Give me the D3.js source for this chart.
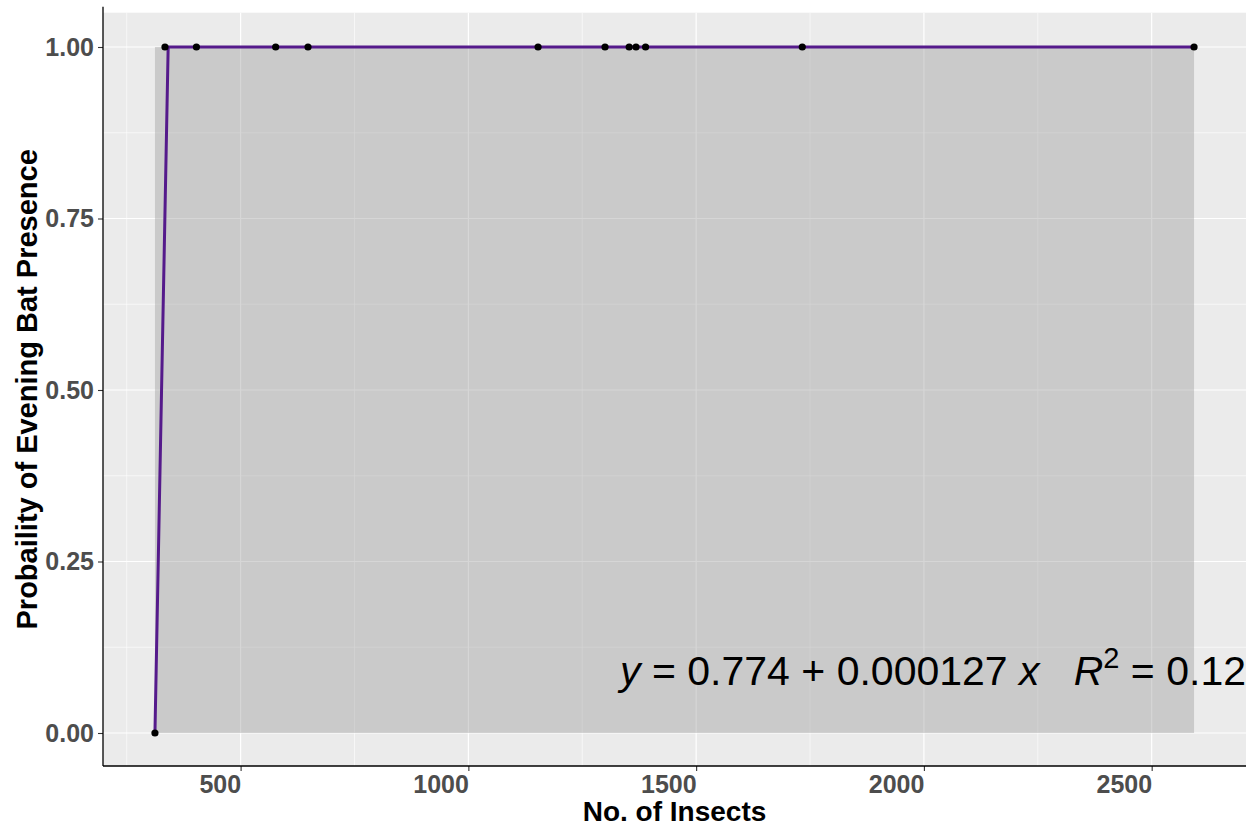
<!DOCTYPE html>
<html>
<head>
<meta charset="utf-8">
<script src="https://cdn.jsdelivr.net/npm/d3@7"></script>
<style>
  html, body { margin: 0; padding: 0; background: #ffffff; }
  svg { display: block; font-family: "Liberation Sans", Arial, sans-serif; }
</style>
</head>
<body>
<svg id="chart" width="1258" height="829"></svg>
<script>
// Observed nights: insect counts and whether evening bats were detected
const insects  = [312, 334, 403, 577, 648, 1153, 1300, 1353, 1368, 1389, 1733, 2593];
const presence = [0, 1, 1, 1, 1, 1, 1, 1, 1, 1, 1, 1];

// Fitted logistic curve with its confidence band
const fitX     = [312, 341, 2593];
const fitY     = [0, 1, 1];
const bandLow  = [0, 0, 0];
const bandHigh = [1, 1, 1];

// Axis ticks
const xTicks      = [500, 1000, 1500, 2000, 2500];
const xMinorTicks = [250, 750, 1250, 1750, 2250];
const yTicks      = [0, 0.25, 0.5, 0.75, 1];
const yTickLabels = ["0.00", "0.25", "0.50", "0.75", "1.00"];
const yMinorTicks = [0.125, 0.375, 0.625, 0.875];

const equationText = { y: "y", a: " = 0.774 + 0.000127 ", x: "x", r: "R", sup: "2", rest: " = 0.12" };

const svg = d3.select("#chart");
const panel = { left: 103, right: 1246, top: 12.7, bottom: 766 };

// 5% padding on both sides, as in ggplot's default expansion
const xMin = d3.min(insects), xMax = d3.max(insects);
const xPad = (xMax - xMin) * 0.05;
const x = d3.scaleLinear().domain([xMin - xPad, xMax + xPad]).range([panel.left, panel.right]);
const y = d3.scaleLinear().domain([-0.05, 1.05]).range([767.3, 12.7]);

// Panel background
svg.append("rect")
  .attr("x", panel.left).attr("y", panel.top)
  .attr("width", panel.right - panel.left).attr("height", panel.bottom - panel.top)
  .attr("fill", "#EBEBEB");

// Grid lines
const grid = svg.append("g");
grid.selectAll(".xminor").data(xMinorTicks).join("line")
  .attr("x1", d => x(d)).attr("x2", d => x(d))
  .attr("y1", panel.top).attr("y2", panel.bottom)
  .attr("stroke", "#ffffff").attr("stroke-width", 0.6);
grid.selectAll(".yminor").data(yMinorTicks).join("line")
  .attr("y1", d => y(d)).attr("y2", d => y(d))
  .attr("x1", panel.left).attr("x2", panel.right)
  .attr("stroke", "#ffffff").attr("stroke-width", 0.6);
grid.selectAll(".xmajor").data(xTicks).join("line")
  .attr("x1", d => x(d)).attr("x2", d => x(d))
  .attr("y1", panel.top).attr("y2", panel.bottom)
  .attr("stroke", "#ffffff").attr("stroke-width", 1.2);
grid.selectAll(".ymajor").data(yTicks).join("line")
  .attr("y1", d => y(d)).attr("y2", d => y(d))
  .attr("x1", panel.left).attr("x2", panel.right)
  .attr("stroke", "#ffffff").attr("stroke-width", 1.2);

// Confidence band
const bandData = fitX.map((d, i) => ({ x: d, lo: bandLow[i], hi: bandHigh[i] }));
svg.append("path")
  .datum(bandData)
  .attr("d", d3.area().x(d => x(d.x)).y0(d => y(d.lo)).y1(d => y(d.hi)))
  .attr("fill", "#999999").attr("fill-opacity", 0.4);

// Fitted curve
const fitData = fitX.map((d, i) => ({ x: d, y: fitY[i] }));
svg.append("path")
  .datum(fitData)
  .attr("d", d3.line().x(d => x(d.x)).y(d => y(d.y)))
  .attr("fill", "none").attr("stroke", "#551A8B").attr("stroke-width", 3)
  .attr("stroke-linejoin", "round");

// Observations
svg.append("g").selectAll("circle")
  .data(insects.map((d, i) => ({ x: d, y: presence[i] })))
  .join("circle")
  .attr("cx", d => x(d.x)).attr("cy", d => y(d.y))
  .attr("r", 3.6).attr("fill", "#000000");

// Equation label
const eq = svg.append("text")
  .attr("x", 1246).attr("y", 685)
  .attr("text-anchor", "end")
  .attr("font-size", 41).attr("fill", "#000000");
eq.append("tspan").attr("font-style", "italic").text(equationText.y);
eq.append("tspan").text(equationText.a);
eq.append("tspan").attr("font-style", "italic").text(equationText.x);
eq.append("tspan").text("\u00A0\u00A0\u00A0");
eq.append("tspan").attr("font-style", "italic").text(equationText.r);
eq.append("tspan").attr("font-size", 29).attr("dy", -17).text(equationText.sup);
eq.append("tspan").attr("dy", 17).text(equationText.rest);

// Axes
const xAxis = d3.axisBottom(x).tickValues(xTicks).tickSize(5).tickPadding(4).tickFormat(d3.format("d"));
const gx = svg.append("g").attr("transform", `translate(0,${panel.bottom})`).call(xAxis);
gx.select(".domain").remove();
gx.selectAll(".tick line").attr("stroke", "#333333").attr("stroke-width", 1.1);
gx.selectAll(".tick text")
  .attr("text-anchor", "end").attr("dy", "0.71em")
  .attr("font-size", 25).attr("font-weight", "bold").attr("fill", "#4D4D4D")
  .attr("font-family", "'Liberation Sans', Arial, sans-serif");

const yAxis = d3.axisLeft(y).tickValues(yTicks).tickSize(5).tickPadding(4)
  .tickFormat((d, i) => yTickLabels[i]);
const gy = svg.append("g").attr("transform", `translate(${panel.left},0)`).call(yAxis);
gy.select(".domain").remove();
gy.selectAll(".tick line").attr("stroke", "#333333").attr("stroke-width", 1.1);
gy.selectAll(".tick text")
  .attr("font-size", 25).attr("font-weight", "bold").attr("fill", "#4D4D4D")
  .attr("font-family", "'Liberation Sans', Arial, sans-serif");

// Axis lines
svg.append("line")
  .attr("x1", panel.left).attr("x2", panel.left)
  .attr("y1", panel.top - 6).attr("y2", panel.bottom)
  .attr("stroke", "#000000").attr("stroke-width", 1.3);
svg.append("line")
  .attr("x1", panel.left).attr("x2", panel.right)
  .attr("y1", panel.bottom).attr("y2", panel.bottom)
  .attr("stroke", "#000000").attr("stroke-width", 1.3);

// Axis titles
svg.append("text")
  .attr("x", (panel.left + panel.right) / 2).attr("y", 821)
  .attr("text-anchor", "middle")
  .attr("font-size", 28).attr("font-weight", "bold").attr("fill", "#000000")
  .text("No. of Insects");
svg.append("text")
  .attr("transform", `translate(37,${(panel.top + panel.bottom) / 2}) rotate(-90)`)
  .attr("text-anchor", "middle")
  .attr("font-size", 29).attr("font-weight", "bold").attr("fill", "#000000")
  .text("Probaility of Evening Bat Presence");
</script>
</body>
</html>
